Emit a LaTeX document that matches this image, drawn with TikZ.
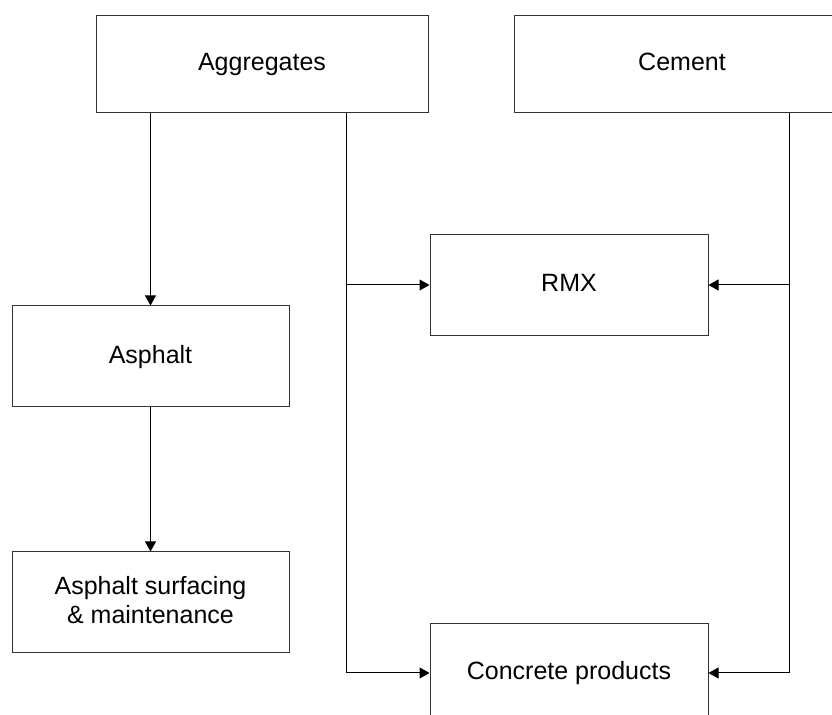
\documentclass[tikz,border=0pt]{standalone}
\usepackage{fontspec}
\setmainfont{Liberation Sans}
\usetikzlibrary{arrows.meta,positioning}
\tikzset{arrows={-{Triangle[length=5pt,width=5.5pt]}}}
\tikzset{
  block/.style={draw=black!80, line width=0.5pt, inner sep=0pt, align=center,
    text depth=2.5pt, font=\fontsize{12.5}{14.5}\selectfont},
  link/.style={line width=0.5pt}
}

\begin{document}
\begin{tikzpicture}[x=0.5pt, y=-0.5pt]

  \useasboundingbox (0,0) rectangle (832,715);
  \clip (0,0) rectangle (832,715);

  \node [block, minimum width=166pt, minimum height=48.5pt] (agg) at (262,64.5) {Aggregates};
  \node [block, minimum width=168pt, minimum height=48.5pt] (cem) at (682,64.5) {Cement};

  \node [block, minimum width=138.5pt, minimum height=50.5pt] (asph) at (150.5,356.5) {Asphalt};
  \node [block, minimum width=138.5pt, minimum height=50.5pt] (surf) [below = 72pt of asph]
        {Asphalt surfacing\\\& maintenance};

  \node [block, minimum width=139pt, minimum height=50.5pt] (rmx) at (569,285) {RMX};
  \node [block, minimum width=139pt, minimum height=49.5pt] (conc) [below = 143.5pt of rmx]
        {Concrete products};

  % feeder lines
  \coordinate (lbus) at (346,0);
  \coordinate (rbus) at (789.5,0);

  \path [link] (asph.north |- agg.south) edge (asph.north)
               (asph) edge (surf);
  \draw [link] (agg.south -| lbus) |- (conc.west);
  \draw [link] (lbus |- rmx) -- (rmx.west);
  \draw [link] (cem.south -| rbus) |- (conc.east);
  \draw [link] (rbus |- rmx) -- (rmx.east);
\end{tikzpicture}
\end{document}
